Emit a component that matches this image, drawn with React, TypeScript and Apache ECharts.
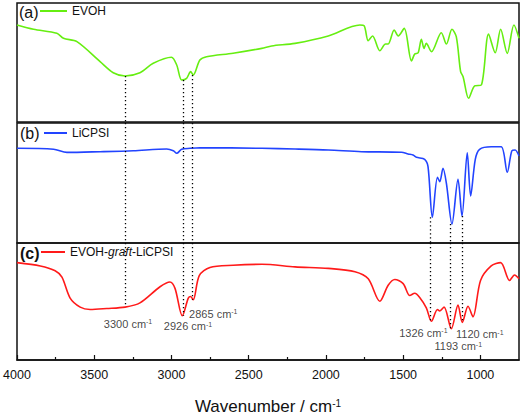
import React, { useEffect, useRef } from 'react';
import * as echarts from 'echarts';

const FONT = '"Liberation Sans", Arial, Helvetica, sans-serif';

// Wavenumber ticks
const majorTicks = [4000, 3500, 3000, 2500, 2000, 1500, 1000];
const minorTicks = [3750, 3250, 2750, 2250, 1750, 1250];

// (a) EVOH
const evohWn = [4000, 3893, 3742, 3699, 3612, 3462, 3377, 3300, 3204, 3118, 3000, 2966, 2934, 2902, 2876, 2859, 2816, 2773, 2601, 2415, 2351, 2200, 1985, 1780, 1752, 1726, 1698, 1651, 1614, 1597, 1558, 1532, 1493, 1446, 1425, 1403, 1382, 1365, 1350, 1317, 1253, 1220, 1184, 1156, 1128, 1112, 1076, 1037, 994, 947, 904, 869, 826, 783, 750];
const evohT = [81.5, 77.9, 74.5, 70.3, 67.5, 50.7, 41.4, 38.7, 41.4, 49.3, 54.4, 47.9, 35.3, 36.7, 42.3, 39.5, 52.1, 54.9, 57.8, 61.9, 63.9, 66.1, 72.3, 81.5, 80.7, 68.3, 72.3, 59.9, 65.5, 65.5, 77.3, 72.3, 78.7, 51.3, 57.1, 58.2, 69.5, 61.9, 66.1, 59.1, 75.0, 65.5, 77.9, 71.7, 42.3, 38.1, 19.9, 30.3, 31.1, 73.9, 58.2, 77.9, 57.7, 81.5, 70.3];

// (b) LiCPSI
const licpsiWn = [4000, 3763, 3677, 3462, 3247, 3031, 2988, 2966, 2934, 2880, 2816, 2415, 2200, 1985, 1770, 1511, 1468, 1436, 1414, 1361, 1339, 1311, 1278, 1263, 1242, 1220, 1184, 1145, 1119, 1085, 1063, 1033, 1005, 930, 865, 826, 796, 775, 750];
const licpsiT = [78.9, 78.1, 75.5, 76.1, 76.9, 78.3, 76.9, 74.75, 78.1, 78.9, 79.4, 78.9, 78.3, 77.5, 76.1, 75.6, 74.2, 73.3, 71.4, 69.75, 63.6, 21.4, 54.75, 51.1, 62.25, 49.75, 15.8, 53.1, 22.5, 75.25, 39.2, 69.75, 78.1, 80.25, 80.25, 58.9, 76.9, 77.5, 72.5];

// (c) EVOH-graft-LiCPSI
const graftWn = [4000, 3849, 3753, 3709, 3656, 3591, 3527, 3419, 3300, 3204, 3074, 3010, 2977, 2930, 2891, 2876, 2859, 2820, 2751, 2601, 2415, 2200, 1985, 1812, 1726, 1651, 1597, 1554, 1500, 1457, 1425, 1393, 1350, 1317, 1278, 1263, 1235, 1188, 1145, 1117, 1080, 1048, 999, 930, 869, 811, 779, 750];
const graftT = [83.2, 80.4, 76.3, 70.8, 52.9, 45.2, 43.2, 44.0, 45.2, 48.8, 62.6, 66.7, 61.2, 37.8, 52.9, 54.3, 51.5, 72.1, 79.1, 81.0, 81.8, 79.6, 78.3, 75.5, 69.4, 50.2, 63.9, 68.8, 65.3, 55.1, 57.0, 53.5, 44.6, 33.1, 43.2, 41.9, 45.2, 26.7, 46.9, 32.2, 46.0, 36.9, 68.0, 80.4, 83.2, 68.0, 72.7, 69.4];

// Guide lines (dotted) between panels
const markerWn = [3300, 2926, 2865, 1326, 1193, 1120];
const markerFrom = ['a', 'a', 'a', 'b', 'b', 'b'];
const markerFromT = [38.7, 35.3, 39.5, 21.4, 15.8, 22.5];
const markerToT = [45.2, 37.8, 51.5, 33.1, 26.7, 32.2];

// Peak annotations in panel (c)
const peakLabels = ['3300', '2926', '2865', '1326', '1193', '1120'];
const peakLabelWn = [3281, 2893, 2729, 1369, 1143, 1004];
const peakLabelT = [30.8, 28.9, 39.7, 23.1, 11.6, 22.1];

const zip = (xs: number[], ys: number[]) => xs.map((x, i) => [x, ys[i]]);

export default function App() {
  const ref = useRef<HTMLDivElement>(null);
  useEffect(() => {
    const chart = echarts.init(ref.current!, null, { renderer: 'svg' });
    const gridBase = { left: 17, width: 502, show: true, borderColor: '#111', borderWidth: 1.5, backgroundColor: 'transparent' };
    const grids = [
      { ...gridBase, top: 3, height: 119 },
      { ...gridBase, top: 123, height: 120 },
      { ...gridBase, top: 243, height: 121 },
    ];
    const xBase = { type: 'value', min: 750, max: 4000, inverse: true };
    const dotted = { color: '#000', width: 1.3, type: [1.3, 2.7] };
    const seg = (wn: number, y1: number, y2: number) => [{ coord: [wn, y1] }, { coord: [wn, y2] }];

    const mlA = markerWn.map((w, i) => (markerFrom[i] === 'a' ? seg(w, markerFromT[i], 0) : null)).filter(Boolean);
    const mlB = markerWn.map((w, i) => (markerFrom[i] === 'a' ? seg(w, 100, 0) : seg(w, markerFromT[i], 0)));
    const mlC = markerWn.map((w, i) => seg(w, 100, markerToT[i]));
    const markLine = (data: any[]) => ({ symbol: ['none', 'none'], silent: true, label: { show: false }, lineStyle: dotted, data });

    const legendBase = {
      orient: 'horizontal', selectedMode: false, icon: 'rect', itemHeight: 2, itemGap: 5, padding: 0,
      textStyle: { fontFamily: FONT, fontSize: 12, color: '#111' },
    };

    const option: any = {
      animation: false,
      backgroundColor: '#fff',
      grid: grids,
      xAxis: [
        { ...xBase, gridIndex: 0, show: false },
        { ...xBase, gridIndex: 1, show: false },
        {
          ...xBase, gridIndex: 2, position: 'bottom',
          axisLine: { show: true, lineStyle: { color: '#111', width: 1.5 } },
          axisTick: { show: true, inside: true, length: 5, customValues: majorTicks, lineStyle: { color: '#111', width: 1.2 } },
          axisLabel: { customValues: majorTicks, color: '#111', fontSize: 12.5, fontFamily: FONT, margin: 8, formatter: (v: number) => String(v) },
          splitLine: { show: false },
          name: '{b|Wavenumber / cm}{s|-1}',
          nameLocation: 'middle',
          nameGap: 38,
          nameTextStyle: {
            rich: {
              b: { fontSize: 17, fontFamily: FONT, color: '#111' },
              s: { fontSize: 10, fontFamily: FONT, color: '#111', verticalAlign: 'top', lineHeight: 10, padding: [0, 0, 8, 0] },
            },
          },
        },
        {
          ...xBase, gridIndex: 2, position: 'bottom',
          axisLine: { show: false },
          axisTick: { show: true, inside: true, length: 3, customValues: minorTicks, lineStyle: { color: '#111', width: 1.2 } },
          axisLabel: { show: false },
          splitLine: { show: false },
        },
      ],
      yAxis: [0, 1, 2].map(i => ({ type: 'value', gridIndex: i, min: 0, max: 100, show: false })),
      legend: [
        { ...legendBase, data: ['EVOH'], left: 40, top: 5, itemWidth: 27 },
        { ...legendBase, data: ['LiCPSI'], left: 44, top: 127, itemWidth: 23 },
        {
          ...legendBase, data: ['EVOH-graft-LiCPSI'], left: 41, top: 246, itemWidth: 24,
          formatter: () => '{n|EVOH-}{i|graft}{n|-LiCPSI}',
          textStyle: {
            ...legendBase.textStyle,
            rich: {
              n: { fontFamily: FONT, fontSize: 12, color: '#111' },
              i: { fontFamily: FONT, fontSize: 12, color: '#111', fontStyle: 'italic' },
            },
          },
        },
      ],
      graphic: [
        { type: 'text', left: 19, top: 4, style: { text: '(a)', font: `16px ${FONT}`, fill: '#111' } },
        { type: 'text', left: 20, top: 125, style: { text: '(b)', font: `16px ${FONT}`, fill: '#111' } },
        { type: 'text', left: 20, top: 245, style: { text: '(c)', font: `bold 16px ${FONT}`, fill: '#111' } },
      ],
      series: [
        {
          name: 'EVOH', type: 'line', xAxisIndex: 0, yAxisIndex: 0, symbol: 'none', smooth: 0.3,
          lineStyle: { color: '#66ee11', width: 1.6 }, itemStyle: { color: '#66ee11' },
          data: zip(evohWn, evohT), markLine: markLine(mlA), z: 3,
        },
        {
          name: 'LiCPSI', type: 'line', xAxisIndex: 1, yAxisIndex: 1, symbol: 'none', smooth: 0.3,
          lineStyle: { color: '#2244ff', width: 1.6 }, itemStyle: { color: '#2244ff' },
          data: zip(licpsiWn, licpsiT), markLine: markLine(mlB), z: 3,
        },
        {
          name: 'EVOH-graft-LiCPSI', type: 'line', xAxisIndex: 2, yAxisIndex: 2, symbol: 'none', smooth: 0.3,
          lineStyle: { color: '#ff1a1a', width: 1.6 }, itemStyle: { color: '#ff1a1a' },
          data: zip(graftWn, graftT), markLine: markLine(mlC), z: 3,
        },
        {
          name: 'peaks', type: 'scatter', xAxisIndex: 2, yAxisIndex: 2, symbolSize: 1,
          itemStyle: { color: 'rgba(0,0,0,0)' }, silent: true,
          data: zip(peakLabelWn, peakLabelT),
          label: {
            show: true, position: 'inside',
            formatter: (p: any) => `{b|${peakLabels[p.dataIndex]} cm}{s|-1}`,
            rich: {
              b: { fontSize: 11, fontFamily: FONT, color: '#111' },
              s: { fontSize: 7, fontFamily: FONT, color: '#111', verticalAlign: 'top', lineHeight: 7, padding: [0, 0, 6, 0] },
            },
          },
        },
      ],
    };
    chart.setOption(option);
    return () => chart.dispose();
  }, []);
  return <div ref={ref} style={{ position: 'fixed', left: 0, top: 0, width: 524, height: 417 }} />;
}
